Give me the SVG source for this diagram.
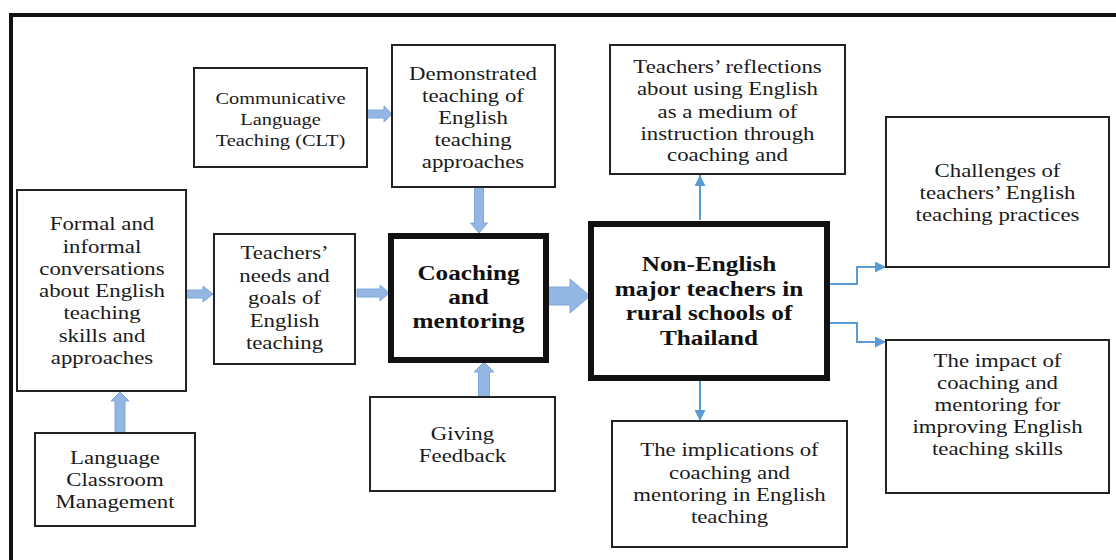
<svg xmlns="http://www.w3.org/2000/svg" width="1116" height="560" viewBox="0 0 1116 560">
<style>
.box{fill:#fff;stroke:#222;stroke-width:2}
.thick{fill:#fff;stroke:#111;stroke-width:6}
.t{font-family:"Liberation Serif","Times New Roman",serif;font-size:19px;fill:#1a1a1a;text-anchor:middle}
.s{font-size:17px}
.b{font-family:"Liberation Serif","Times New Roman",serif;font-size:21px;font-weight:bold;fill:#111;text-anchor:middle}
.blk{fill:#93b6e2;stroke:#7ea8dc;stroke-width:1}
.ln{fill:none;stroke:#5b9bd5;stroke-width:2;marker-end:url(#ah)}
</style>
<defs>
<marker id="ah" viewBox="0 0 10 10" refX="10" refY="5" markerWidth="11" markerHeight="11" markerUnits="userSpaceOnUse" orient="auto">
<path d="M0,0 L10,5 L0,10 z" fill="#5b9bd5"/>
</marker>
</defs>
<rect width="1116" height="560" fill="#fff"/>
<rect x="11" y="15" width="1130" height="570" fill="none" stroke="#111" stroke-width="4"/>

<g id="connectors">
<polygon class="blk" points="367,110 384,110 384,106 392,114 384,122 384,118 367,118"/>
<polygon class="blk" points="186,290 203,290 203,286 213,294 203,302 203,298 186,298"/>
<polygon class="blk" points="357,289 380,289 380,285 389,293 380,301 380,297 357,297"/>
<polygon class="blk" points="474.5,187 483.5,187 483.5,223 487.5,223 479,233 470.5,223 474.5,223"/>
<polygon class="blk" points="478.5,397 489.5,397 489.5,372 494,372 484,362 474,372 478.5,372"/>
<polygon class="blk" points="115,433 125,433 125,401 129,401 120,392 111,401 115,401"/>
<polygon class="blk" points="546,287 570,287 570,279 590,296 570,313 570,305 546,305"/>
<path class="ln" d="M700,220 V175"/>
<path class="ln" d="M700,381 V421"/>
<path class="ln" d="M830,284 H857 V267 H886"/>
<path class="ln" d="M830,323 H857 V342 H886"/>
</g>

<g id="clt">
<rect class="box" x="194" y="68" width="173" height="99"/>
<g transform="translate(280.5 0) scale(1.2 1)">
<text class="t s" x="0" y="104">Communicative</text>
<text class="t s" x="0" y="125">Language</text>
<text class="t s" x="0" y="146">Teaching (CLT)</text>
</g>
</g>

<g id="demonstrated">
<rect class="box" x="392" y="45" width="163" height="142"/>
<g transform="translate(473 0) scale(1.2 1)">
<text class="t" x="0" y="80">Demonstrated</text>
<text class="t" x="0" y="102">teaching of</text>
<text class="t" x="0" y="124">English</text>
<text class="t" x="0" y="146">teaching</text>
<text class="t" x="0" y="168">approaches</text>
</g>
</g>

<g id="formal">
<rect class="box" x="17" y="190" width="169" height="201"/>
<g transform="translate(102 0) scale(1.2 1)">
<text class="t" x="0" y="230">Formal and</text>
<text class="t" x="0" y="253">informal</text>
<text class="t" x="0" y="275">conversations</text>
<text class="t" x="0" y="297">about English</text>
<text class="t" x="0" y="319">teaching</text>
<text class="t" x="0" y="342">skills and</text>
<text class="t" x="0" y="364">approaches</text>
</g>
</g>

<g id="needs">
<rect class="box" x="214" y="234" width="141" height="130"/>
<g transform="translate(284.5 0) scale(1.2 1)">
<text class="t" x="0" y="259">Teachers’</text>
<text class="t" x="0" y="282">needs and</text>
<text class="t" x="0" y="304">goals of</text>
<text class="t" x="0" y="327">English</text>
<text class="t" x="0" y="349">teaching</text>
</g>
</g>

<g id="coaching">
<rect class="thick" x="391" y="236" width="155" height="124"/>
<g transform="translate(468.5 0) scale(1.2 1)">
<text class="b" x="0" y="280">Coaching</text>
<text class="b" x="0" y="304">and</text>
<text class="b" x="0" y="328">mentoring</text>
</g>
</g>

<g id="lcm">
<rect class="box" x="35" y="433" width="160" height="93"/>
<g transform="translate(115 0) scale(1.2 1)">
<text class="t" x="0" y="464">Language</text>
<text class="t" x="0" y="486">Classroom</text>
<text class="t" x="0" y="508">Management</text>
</g>
</g>

<g id="feedback">
<rect class="box" x="370" y="397" width="185" height="94"/>
<g transform="translate(462.5 0) scale(1.2 1)">
<text class="t" x="0" y="440">Giving</text>
<text class="t" x="0" y="462">Feedback</text>
</g>
</g>

<g id="nonenglish">
<rect class="thick" x="591" y="224" width="236" height="154"/>
<g transform="translate(709 0) scale(1.2 1)">
<text class="b" x="0" y="271">Non-English</text>
<text class="b" x="0" y="296">major teachers in</text>
<text class="b" x="0" y="320">rural schools of</text>
<text class="b" x="0" y="345">Thailand</text>
</g>
</g>

<g id="reflections">
<rect class="box" x="610" y="45" width="235" height="129"/>
<g transform="translate(727.5 0) scale(1.2 1)">
<text class="t" x="0" y="73">Teachers’ reflections</text>
<text class="t" x="0" y="95">about using English</text>
<text class="t" x="0" y="118">as a medium of</text>
<text class="t" x="0" y="140">instruction through</text>
<text class="t" x="0" y="161">coaching and</text>
</g>
</g>

<g id="challenges">
<rect class="box" x="886" y="117" width="223" height="150"/>
<g transform="translate(997.5 0) scale(1.2 1)">
<text class="t" x="0" y="177">Challenges of</text>
<text class="t" x="0" y="199">teachers’ English</text>
<text class="t" x="0" y="221">teaching practices</text>
</g>
</g>

<g id="impact">
<rect class="box" x="886" y="340" width="223" height="153"/>
<g transform="translate(997.5 0) scale(1.2 1)">
<text class="t" x="0" y="367">The impact of</text>
<text class="t" x="0" y="389">coaching and</text>
<text class="t" x="0" y="411">mentoring for</text>
<text class="t" x="0" y="433">improving English</text>
<text class="t" x="0" y="455">teaching skills</text>
</g>
</g>

<g id="implications">
<rect class="box" x="612" y="421" width="235" height="126"/>
<g transform="translate(729.5 0) scale(1.2 1)">
<text class="t" x="0" y="456">The implications of</text>
<text class="t" x="0" y="479">coaching and</text>
<text class="t" x="0" y="501">mentoring in English</text>
<text class="t" x="0" y="523">teaching</text>
</g>
</g>
</svg>
